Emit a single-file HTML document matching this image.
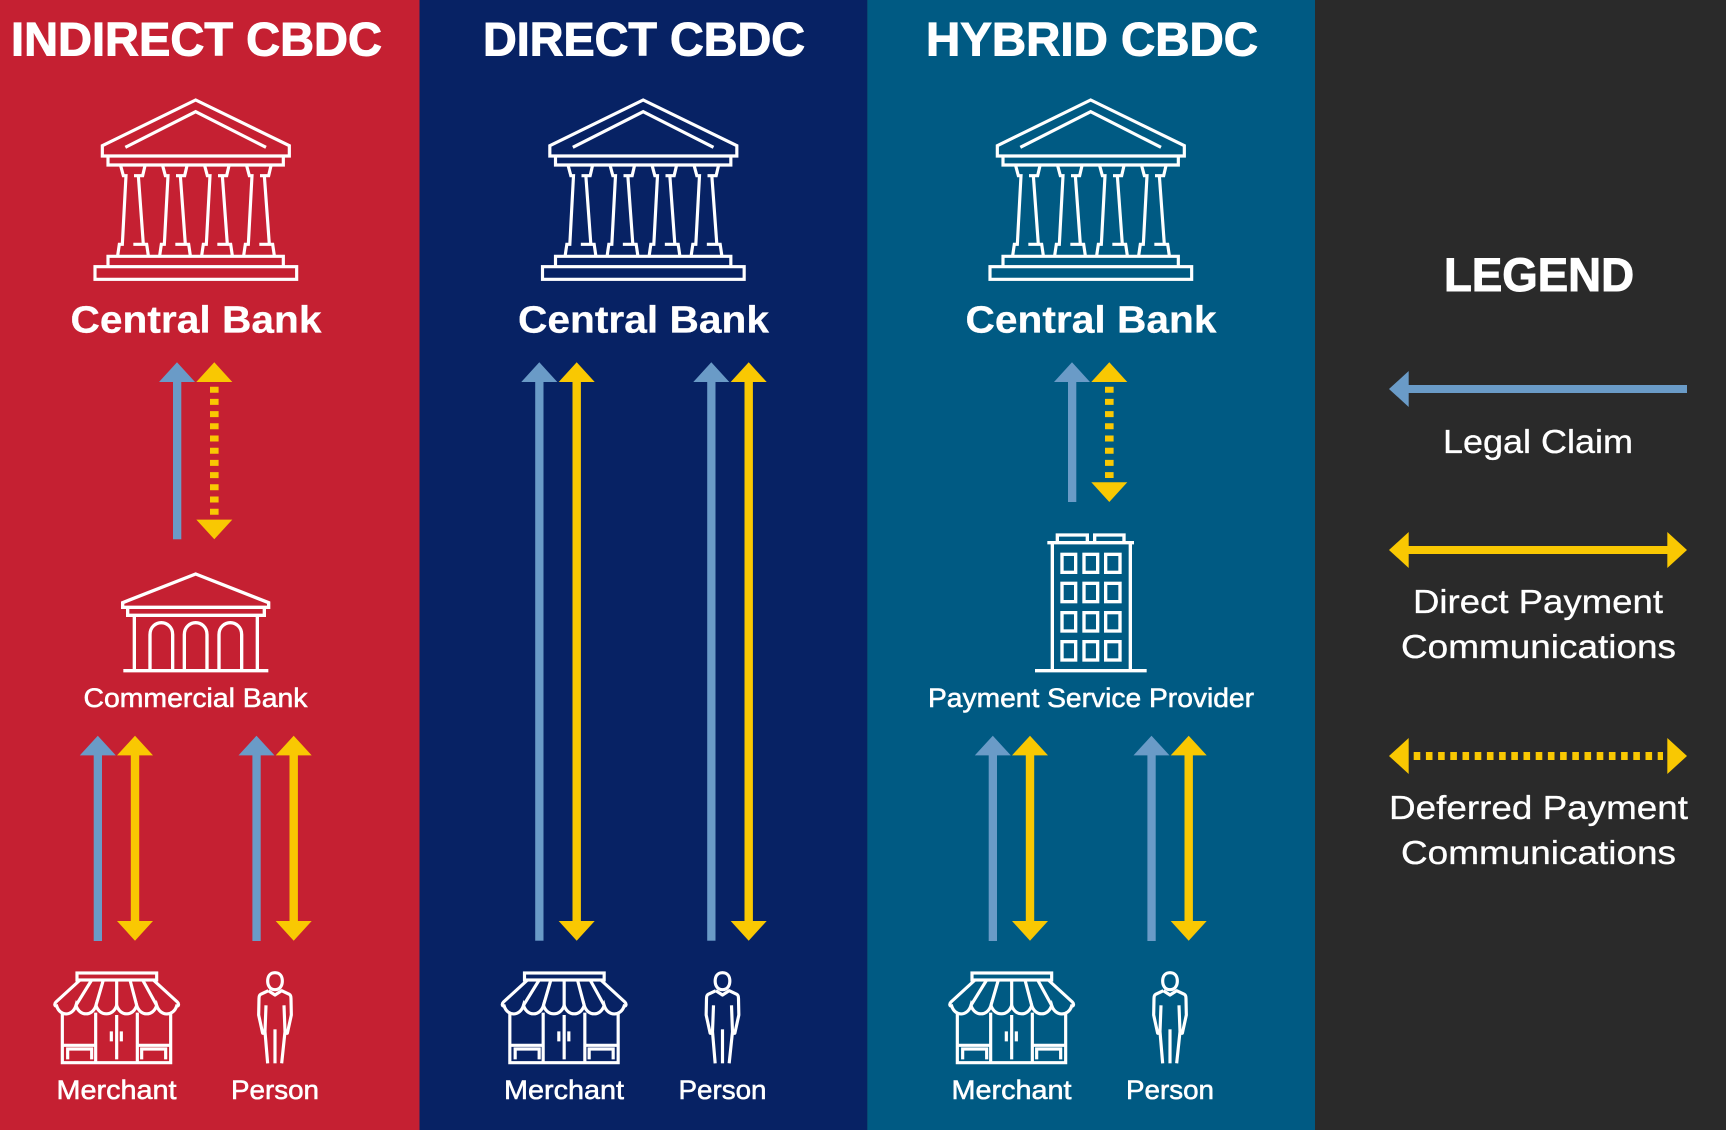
<!DOCTYPE html>
<html><head><meta charset="utf-8"><style>
html,body{margin:0;padding:0;background:#2a2a2a}
svg{display:block}
text{font-family:"Liberation Sans",sans-serif;fill:#fff;stroke:#fff}
.t{font-size:47px;font-weight:bold;stroke-width:1}
.c{font-size:38px;font-weight:bold;stroke-width:.25}
.l{font-size:27px;stroke-width:.55}
.k{font-size:33px;stroke-width:.3}
</style></head><body>
<svg width="1726" height="1130" viewBox="0 0 1726 1130" xmlns="http://www.w3.org/2000/svg">
<defs>
<polygon id="bu" points="0,0 18,19.7 -18,19.7" fill="#6a9bc7"/>
<polygon id="yu" points="0,0 18,19.7 -18,19.7" fill="#f9c802"/>
<polygon id="yd" points="0,0 18,-19.7 -18,-19.7" fill="#f9c802"/>
<path id="col" d="M92 212L100 242H108L97 448H88L83 482M165 212L158 242H132M145 242L160 448H130M160 448H170L175 482"/>
<g id="temple" transform="translate(90,95) scale(.33333)" fill="none" stroke="#fff" stroke-width="9.5" stroke-linejoin="miter">
<path d="M37 152L317 15L598 152V183H37Z"/>
<path d="M106 157L317 50L528 157"/>
<path d="M54 183V210H580V183"/>
<use href="#col"/><use href="#col" x="126"/><use href="#col" x="252"/><use href="#col" x="378"/>
<path d="M54 512V484H580V512"/>
<rect x="15" y="515" width="605" height="38"/>
</g>
<g id="shop" transform="translate(0,900) scale(.33333)" fill="none" stroke="#fff" stroke-width="9.5">
<rect x="231" y="219" width="239" height="21"/>
<path d="M240 240L168 306C162 312 164 320 170 318C180 350 218 350 228 316C238 350 278 350 288 316C298 350 340 350 350 316C360 350 400 350 410 316C420 350 460 350 470 316C480 350 520 350 530 318C536 320 538 312 532 306L460 240"/>
<path d="M275 240L228 316M310 240L288 316M350 240V316M390 240L410 316M428 240L470 316"/>
<path d="M187 338V488H512V338M287 338V488M412 338V488M350 345V478"/>
<path d="M334 394V424M364 394V424"/>
<path d="M187 436H287M412 436H512"/>
<path d="M203 478V447H275V478M425 478V447H497V478"/>
</g>
<g id="person" transform="translate(0,900) scale(.33333)" fill="none" stroke="#fff" stroke-width="9.5" stroke-linejoin="round">
<path d="M825 218C810 218 803 229 803 243C803 258 811 269 825 269C839 269 847 258 847 243C847 229 840 218 825 218Z"/>
<path d="M805 272L825 285L845 272L868 283C872 285 873 290 873 296L874 345L862 400L856 400M845 490L855 395L852 316"/>
<path d="M805 272L782 283C778 285 777 290 777 296L776 345L788 400L794 400M803 490L795 395L798 316"/>
<path d="M825 388V490"/>
</g>
<g id="pair">
<rect x="93.7" y="755" width="8.3" height="186" fill="#6a9bc7"/><use href="#bu" x="97.8" y="735.7"/>
<rect x="130.8" y="755" width="8.4" height="167" fill="#f9c802"/><use href="#yu" x="135" y="735.7"/><use href="#yd" x="135" y="940.7"/>
<rect x="252.4" y="755" width="8.3" height="186" fill="#6a9bc7"/><use href="#bu" x="256.5" y="735.7"/>
<rect x="289.5" y="755" width="8.4" height="167" fill="#f9c802"/><use href="#yu" x="293.7" y="735.7"/><use href="#yd" x="293.7" y="940.7"/>
</g>
</defs>

<rect width="1726" height="1130" fill="#2a2a2a"/>
<rect x="0" y="0" width="419.5" height="1130" fill="#c52032"/>
<rect x="419.5" y="0" width="447.8" height="1130" fill="#072264"/>
<rect x="867.3" y="0" width="447.7" height="1130" fill="#005a83"/>

<!-- titles -->
<text class="t" x="11" y="55.5" textLength="371" lengthAdjust="spacingAndGlyphs">INDIRECT CBDC</text>
<text class="t" x="483" y="55.5" textLength="322" lengthAdjust="spacingAndGlyphs">DIRECT CBDC</text>
<text class="t" x="926" y="55.5" textLength="332" lengthAdjust="spacingAndGlyphs">HYBRID CBDC</text>

<!-- indirect -->
<use href="#temple"/>
<text class="c" x="70.5" y="332.5" textLength="251" lengthAdjust="spacingAndGlyphs">Central Bank</text>
<rect x="173" y="380" width="8.3" height="159.3" fill="#6a9bc7"/><use href="#bu" x="177" y="362.3"/>
<use href="#yu" x="214.3" y="362.3"/><use href="#yd" x="214.3" y="539.3"/>
<path d="M214.3 386.7V515" stroke="#f9c802" stroke-width="8.6" stroke-dasharray="6 6.2" fill="none"/>
<g transform="translate(0,340) scale(.33333)" fill="none" stroke="#fff" stroke-width="10">
<path d="M368 788L587 702L806 788V802H368Z"/>
<path d="M383 802V826H793V802"/>
<path d="M403 826V990M772 826V990"/>
<path d="M370 992H805"/>
<path d="M450 990V884C450 860 468 848 484 848C500 848 518 860 518 884V990"/>
<path d="M553 990V884C553 860 571 848 587 848C603 848 621 860 621 884V990"/>
<path d="M657 990V884C657 860 675 848 691 848C707 848 725 860 725 884V990"/>
</g>
<text class="l" x="83.5" y="707" textLength="224" lengthAdjust="spacingAndGlyphs">Commercial Bank</text>
<use href="#pair"/>
<use href="#shop"/><use href="#person"/>
<text class="l" x="56.5" y="1099" textLength="120" lengthAdjust="spacingAndGlyphs">Merchant</text>
<text class="l" x="231" y="1099" textLength="88" lengthAdjust="spacingAndGlyphs">Person</text>

<!-- direct -->
<g transform="translate(447.5,0)">
<use href="#temple"/>
<text class="c" x="70.5" y="332.5" textLength="251" lengthAdjust="spacingAndGlyphs">Central Bank</text>
<use href="#shop"/><use href="#person"/>
<text class="l" x="56.5" y="1099" textLength="120" lengthAdjust="spacingAndGlyphs">Merchant</text>
<text class="l" x="231" y="1099" textLength="88" lengthAdjust="spacingAndGlyphs">Person</text>
</g>
<rect x="535.2" y="380" width="8.3" height="560.7" fill="#6a9bc7"/><use href="#bu" x="539.3" y="362.3"/>
<rect x="572.5" y="380" width="8.4" height="542" fill="#f9c802"/><use href="#yu" x="576.7" y="362.3"/><use href="#yd" x="576.7" y="940.7"/>
<rect x="707.2" y="380" width="8.3" height="560.7" fill="#6a9bc7"/><use href="#bu" x="711.3" y="362.3"/>
<rect x="744.5" y="380" width="8.4" height="542" fill="#f9c802"/><use href="#yu" x="748.7" y="362.3"/><use href="#yd" x="748.7" y="940.7"/>

<!-- hybrid -->
<g transform="translate(895,0)">
<use href="#temple"/>
<text class="c" x="70.5" y="332.5" textLength="251" lengthAdjust="spacingAndGlyphs">Central Bank</text>
<use href="#pair"/>
<use href="#shop"/><use href="#person"/>
<text class="l" x="56.5" y="1099" textLength="120" lengthAdjust="spacingAndGlyphs">Merchant</text>
<text class="l" x="231" y="1099" textLength="88" lengthAdjust="spacingAndGlyphs">Person</text>
</g>
<rect x="1068" y="380" width="8.3" height="122" fill="#6a9bc7"/><use href="#bu" x="1072" y="362.3"/>
<use href="#yu" x="1109.3" y="362.3"/><use href="#yd" x="1109.3" y="502"/>
<path d="M1109.3 386.7V478" stroke="#f9c802" stroke-width="8.6" stroke-dasharray="6 6.2" fill="none"/>
<g transform="translate(920,340) scale(.33333)" fill="none" stroke="#fff" stroke-width="10">
<path d="M412 605V585H502V605M524 605V585H612V605"/>
<path d="M382 608H642"/>
<path d="M397 608V990M631 608V990"/>
<path d="M345 992H680"/>
<rect x="426" y="643" width="41" height="54"/><rect x="492" y="643" width="41" height="54"/><rect x="557" y="643" width="43" height="54"/>
<rect x="426" y="730" width="41" height="55"/><rect x="492" y="730" width="41" height="55"/><rect x="557" y="730" width="43" height="55"/>
<rect x="426" y="818" width="41" height="55"/><rect x="492" y="818" width="41" height="55"/><rect x="557" y="818" width="43" height="55"/>
<rect x="426" y="905" width="41" height="55"/><rect x="492" y="905" width="41" height="55"/><rect x="557" y="905" width="43" height="55"/>
</g>
<text class="l" x="928" y="707" textLength="326" lengthAdjust="spacingAndGlyphs">Payment Service Provider</text>

<!-- legend -->
<text class="t" x="1444" y="291" textLength="190" lengthAdjust="spacingAndGlyphs">LEGEND</text>
<rect x="1405" y="385" width="282" height="8" fill="#6a9bc7"/>
<polygon points="1389,389 1408.7,371 1408.7,407" fill="#6a9bc7"/>
<text class="k" x="1443" y="453" textLength="190" lengthAdjust="spacingAndGlyphs">Legal Claim</text>
<rect x="1405" y="546" width="265" height="8" fill="#f9c802"/>
<polygon points="1389,550 1408.7,532 1408.7,568" fill="#f9c802"/>
<polygon points="1687,550 1667.3,532 1667.3,568" fill="#f9c802"/>
<text class="k" x="1413" y="613" textLength="250" lengthAdjust="spacingAndGlyphs">Direct Payment</text>
<text class="k" x="1401" y="658" textLength="275" lengthAdjust="spacingAndGlyphs">Communications</text>
<path d="M1413.7 756H1663" stroke="#f9c802" stroke-width="8" stroke-dasharray="6.6 5.6" fill="none"/>
<polygon points="1389,756 1408.7,738 1408.7,774" fill="#f9c802"/>
<polygon points="1687,756 1667.3,738 1667.3,774" fill="#f9c802"/>
<text class="k" x="1389" y="819" textLength="299" lengthAdjust="spacingAndGlyphs">Deferred Payment</text>
<text class="k" x="1401" y="864" textLength="275" lengthAdjust="spacingAndGlyphs">Communications</text>
</svg>
</body></html>
